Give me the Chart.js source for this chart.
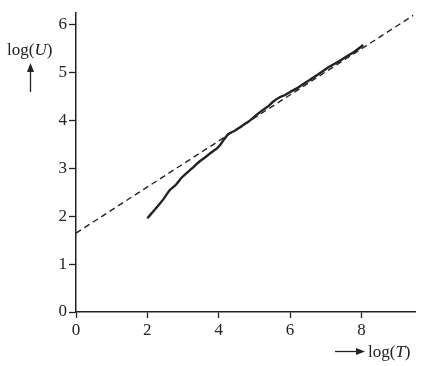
<!DOCTYPE html>
<html>
<head>
<meta charset="utf-8">
<script src="https://cdn.jsdelivr.net/npm/chart.js@4/dist/chart.umd.min.js"></script>
<style>
  html, body { margin: 0; padding: 0; background: #fff; }
  #wrap { width: 428px; height: 366px; }
</style>
</head>
<body>
<div id="wrap"><canvas id="chart" width="428" height="366"></canvas></div>
<script>
// measured curve log(U) vs log(T)
const solidX = [2.0, 2.15, 2.3, 2.45, 2.63, 2.8, 2.95, 3.05, 3.2, 3.35, 3.47, 3.65, 3.8, 3.95, 4.05, 4.15, 4.27, 4.45, 4.6, 4.69,
                4.85, 5.06, 5.25, 5.4, 5.53, 5.71, 5.85, 6.0, 6.2, 6.46, 6.65, 6.85, 7.11, 7.3, 7.45, 7.58, 7.8, 8.05];
const solidY = [1.96, 2.09, 2.22, 2.36, 2.55, 2.66, 2.80, 2.87, 2.97, 3.07, 3.15, 3.25, 3.34, 3.42, 3.50, 3.61, 3.72, 3.79, 3.86, 3.91,
                3.99, 4.12, 4.23, 4.31, 4.40, 4.49, 4.53, 4.60, 4.68, 4.81, 4.90, 5.00, 5.13, 5.21, 5.28, 5.34, 5.44, 5.58];
// fitted straight line
const fitX = [0, 9.45];
const fitY = [1.65, 6.2];
// axes
const xTicks = [0, 2, 4, 6, 8];
const yTicks = [0, 1, 2, 3, 4, 5, 6];

const FONT = '"Liberation Serif", "DejaVu Serif", serif';
const INK = '#222';

const toPts = (xs, ys) => xs.map((x, i) => ({ x, y: ys[i] }));

const axisTitles = {
  id: 'axisTitles',
  afterDraw(chart) {
    const c = chart.ctx;
    c.save();
    c.fillStyle = INK;
    c.strokeStyle = INK;
    c.textBaseline = 'alphabetic';

    function richText(x, y, parts) {
      let cx = x;
      parts.forEach(([t, italic]) => {
        c.font = (italic ? 'italic ' : '') + '17px ' + FONT;
        c.fillText(t, cx, y);
        cx += c.measureText(t).width;
      });
    }
    function arrow(x1, y1, x2, y2) {
      const a = Math.atan2(y2 - y1, x2 - x1);
      c.lineWidth = 1.3;
      c.beginPath(); c.moveTo(x1, y1); c.lineTo(x2 - 6 * Math.cos(a), y2 - 6 * Math.sin(a)); c.stroke();
      c.beginPath();
      c.moveTo(x2, y2);
      c.lineTo(x2 - 9 * Math.cos(a) + 3.5 * Math.sin(a), y2 - 9 * Math.sin(a) - 3.5 * Math.cos(a));
      c.lineTo(x2 - 9 * Math.cos(a) - 3.5 * Math.sin(a), y2 - 9 * Math.sin(a) + 3.5 * Math.cos(a));
      c.closePath(); c.fill();
    }

    c.textAlign = 'left';
    richText(7, 55, [['log(', false], ['U', true], [')', false]]);
    arrow(30.5, 92, 30.5, 63);

    richText(368, 357, [['log(', false], ['T', true], [')', false]]);
    arrow(335, 351.5, 365, 351.5);
    c.restore();
  }
};

new Chart(document.getElementById('chart'), {
  type: 'scatter',
  data: {
    datasets: [
      {
        label: 'fit',
        data: toPts(fitX, fitY),
        showLine: true,
        borderColor: INK,
        borderWidth: 1.4,
        borderDash: [6, 4],
        pointRadius: 0,
      },
      {
        label: 'log(U)',
        data: toPts(solidX, solidY),
        showLine: true,
        borderColor: INK,
        borderWidth: 2.4,
        tension: 0.2,
        pointRadius: 0,
      },
    ],
  },
  options: {
    responsive: false,
    animation: false,
    layout: { padding: { top: 13, right: 13, left: 0, bottom: 0 } },
    plugins: { legend: { display: false }, tooltip: { enabled: false } },
    scales: {
      x: {
        type: 'linear', min: 0, max: 9.5,
        afterBuildTicks: s => { s.ticks = xTicks.map(v => ({ value: v })); },
        afterFit: s => { s.height = 54; },
        border: { color: INK, width: 1.5 },
        grid: { drawOnChartArea: false, tickLength: 6, color: INK, tickWidth: 1.3 },
        ticks: { color: INK, padding: 2, font: { family: FONT, size: 17 } },
      },
      y: {
        type: 'linear', min: 0, max: 6.25,
        afterBuildTicks: s => { s.ticks = yTicks.map(v => ({ value: v })); },
        afterFit: s => { s.width = 76; },
        border: { color: INK, width: 1.5 },
        grid: { drawOnChartArea: false, tickLength: 7, color: INK, tickWidth: 1.3 },
        ticks: { color: INK, padding: 2, font: { family: FONT, size: 17 } },
      },
    },
  },
  plugins: [axisTitles],
});
</script>
</body>
</html>
